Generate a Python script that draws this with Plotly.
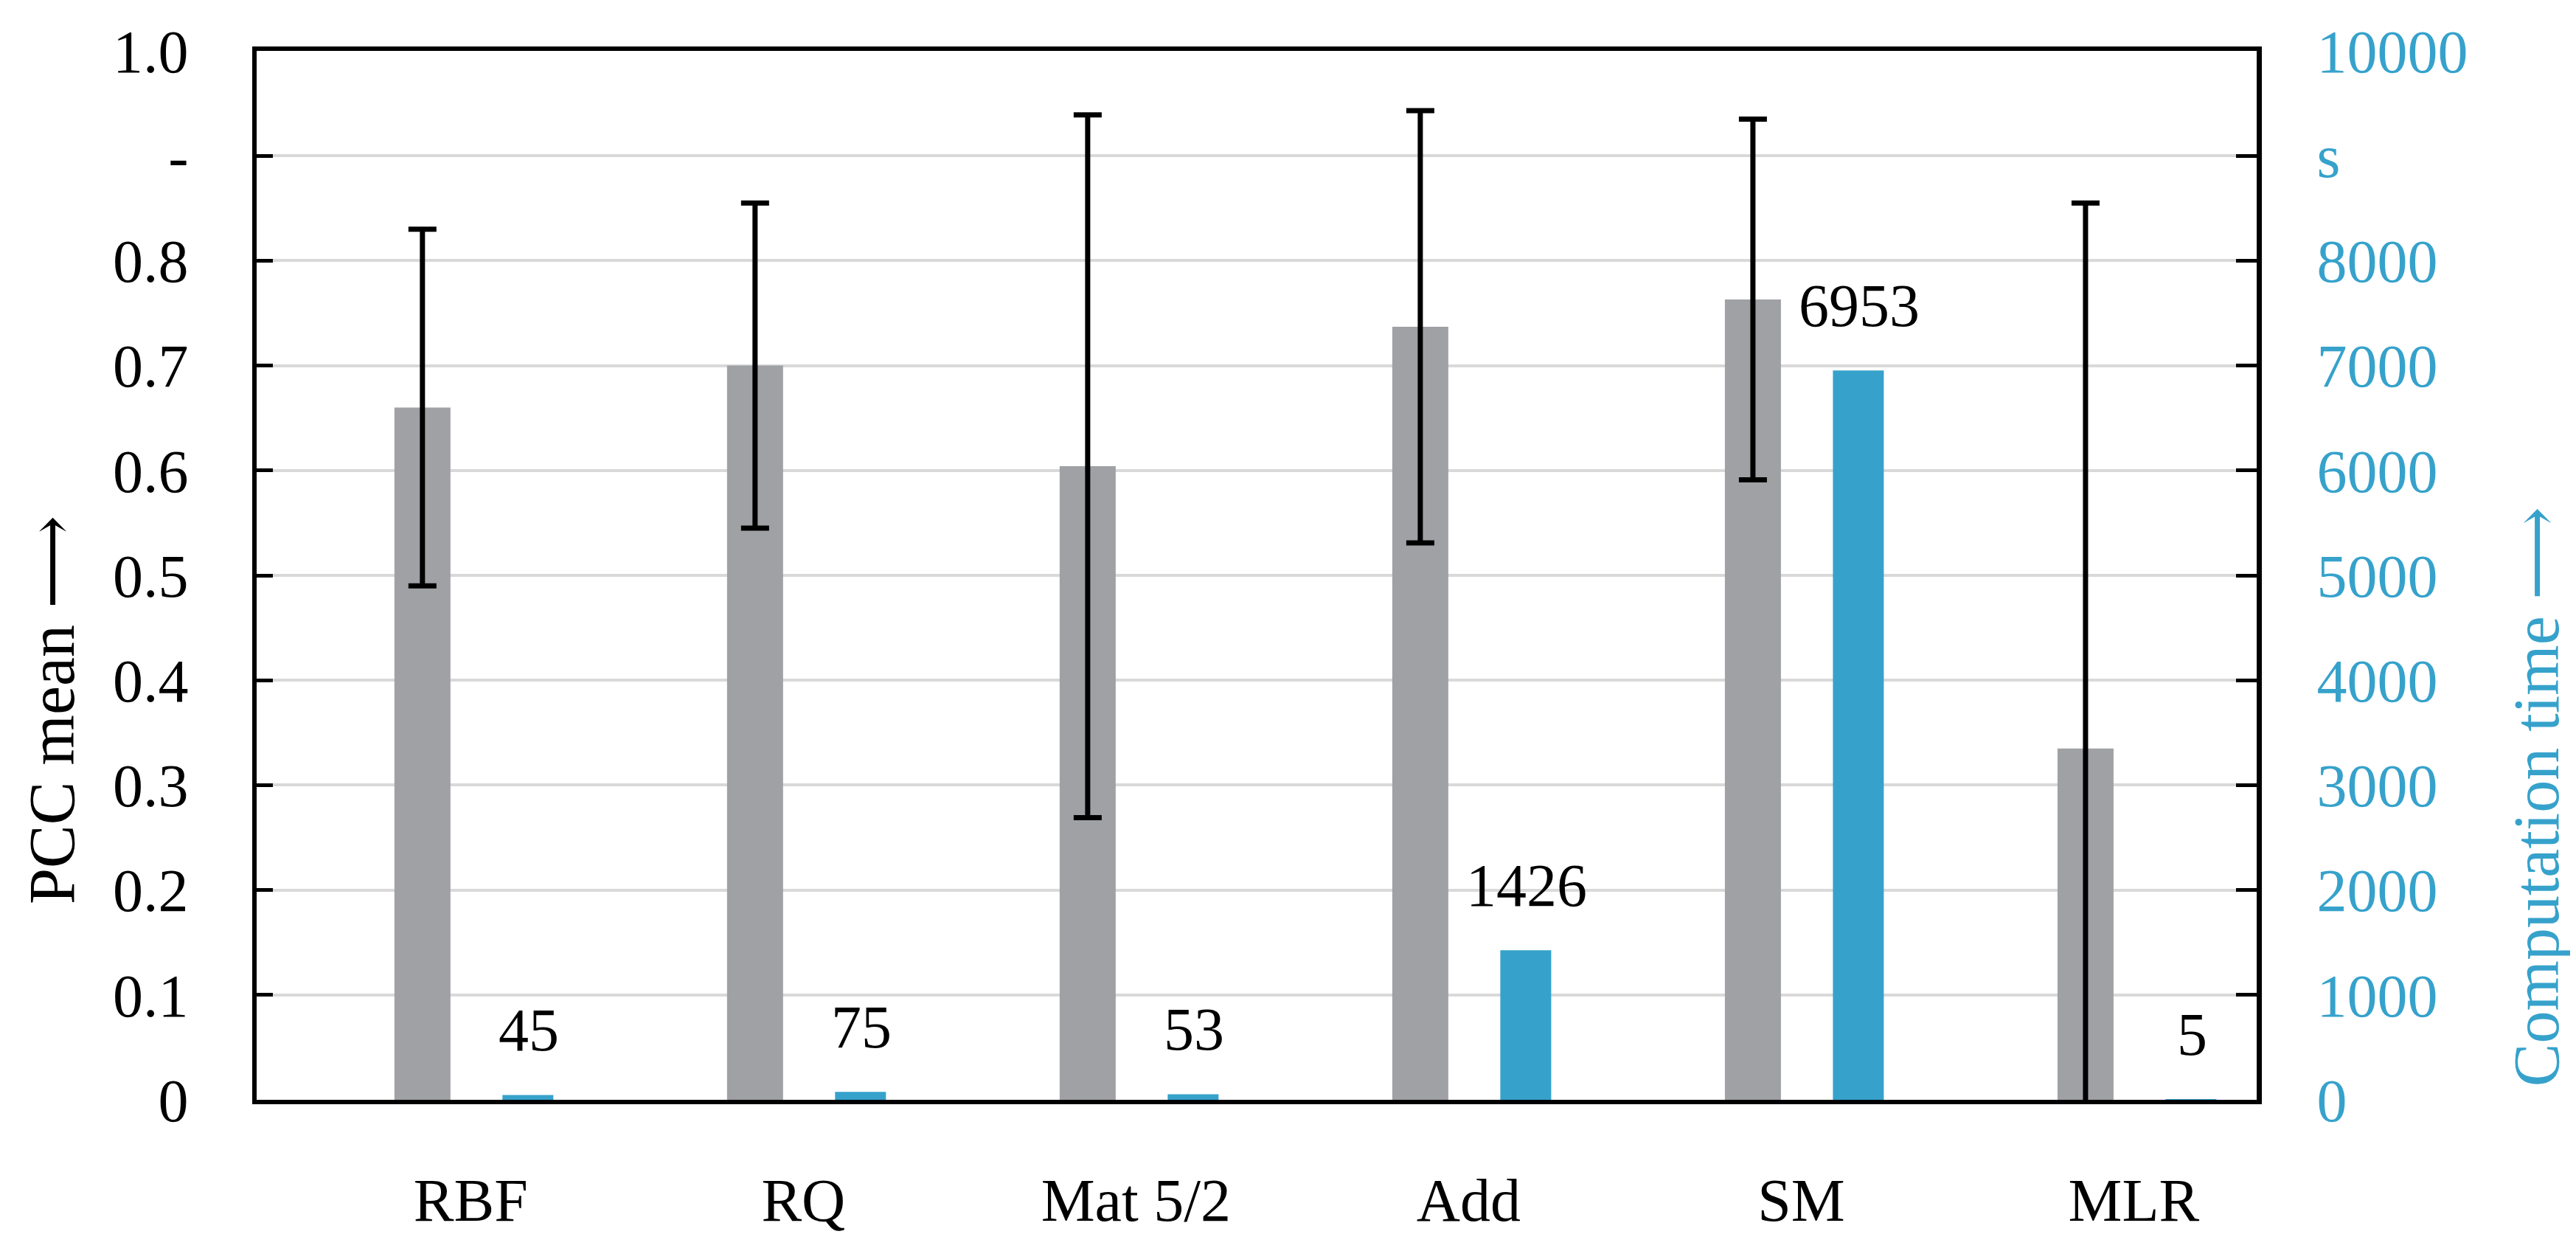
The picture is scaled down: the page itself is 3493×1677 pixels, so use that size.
import plotly.graph_objects as go

# ---- data ----
categories = ["RBF", "RQ", "Mat 5/2", "Add", "SM", "MLR"]
pcc_mean = [0.66, 0.70, 0.604, 0.737, 0.763, 0.335]
pcc_err = [0.17, 0.155, 0.335, 0.206, 0.172, 0.52]
comp_time = [45, 75, 53, 1426, 6953, 5]

left_tickvals = [0, 0.1, 0.2, 0.3, 0.4, 0.5, 0.6, 0.7, 0.8, 0.9, 1.0]
left_ticktext = ["0", "0.1", "0.2", "0.3", "0.4", "0.5", "0.6", "0.7", "0.8", "-", "1.0"]
right_tickvals = [0, 1000, 2000, 3000, 4000, 5000, 6000, 7000, 8000, 9000, 10000]
right_ticktext = ["0", "1000", "2000", "3000", "4000", "5000", "6000", "7000", "8000", "s", "10000"]

ARROW = "<span style='font-family:DejaVu Serif'>\u27f6</span>"
left_title = "PCC mean " + ARROW
right_title = "Computation time " + ARROW

# ---- style ----
GRAY = "#a0a1a5"
BLUE = "#36a2cb"
GRID = "#d9d9d9"
FONT = "Liberation Serif"
FS = 82
TFS = 88

W, H = 3493, 1677
ML, MR, MT, MB = 340, 441, 61, 162

fig = go.Figure()

fig.add_trace(go.Bar(
    x=categories, y=pcc_mean, yaxis="y",
    width=0.1685, offset=-0.2428,
    marker=dict(color=GRAY, line=dict(width=0)),
    error_y=dict(type="data", array=pcc_err, visible=True,
                 color="black", thickness=7, width=19),
    showlegend=False,
))

fig.add_trace(go.Bar(
    x=categories, y=comp_time, yaxis="y2",
    width=0.153, offset=0.082,
    marker=dict(color=BLUE, line=dict(width=0)),
    showlegend=False,
))

# value labels above the blue bars
for c, v in zip(categories, comp_time):
    fig.add_annotation(
        x=c, y=v, xref="x", yref="y2", text=str(v), showarrow=False,
        xshift=73, yshift=88, yanchor="middle", xanchor="center",
        font=dict(family=FONT, size=FS, color="black"),
    )

plot_w = W - ML - MR
plot_h = H - MT - MB

fig.add_annotation(
    x=(62 - ML) / plot_w, y=(H - MB - 975) / plot_h, xref="paper", yref="paper",
    text=left_title, textangle=-90, showarrow=False,
    xanchor="center", yanchor="middle",
    font=dict(family=FONT, size=TFS, color="black"),
)
fig.add_annotation(
    x=(3430 - ML) / plot_w, y=(H - MB - 1095) / plot_h, xref="paper", yref="paper",
    text=right_title, textangle=-90, showarrow=False,
    xanchor="center", yanchor="middle",
    font=dict(family=FONT, size=TFS, color=BLUE),
)

fig.update_layout(
    width=W, height=H, autosize=False,
    margin=dict(l=ML, r=MR, t=MT, b=MB, pad=0),
    paper_bgcolor="white", plot_bgcolor="white",
    barmode="overlay",
    font=dict(family=FONT, size=FS, color="black"),
    xaxis=dict(
        type="category", range=[-0.657, 5.356],
        showline=True, linecolor="black", linewidth=6, mirror=True,
        ticks="", showgrid=False, zeroline=False,
        tickfont=dict(family=FONT, size=FS, color="black"),
        ticklabelshift=-6, ticklabelstandoff=60,
    ),
    yaxis=dict(
        range=[0, 1], tickvals=left_tickvals, ticktext=left_ticktext,
        showgrid=True, gridcolor=GRID, gridwidth=4,
        showline=True, linecolor="black", linewidth=6,
        ticks="inside", ticklen=22, tickwidth=5, tickcolor="black",
        zeroline=False,
        tickfont=dict(family=FONT, size=FS, color="black"),
        ticklabelstandoff=70,
    ),
    yaxis2=dict(
        overlaying="y", side="right",
        range=[0, 10000], tickvals=right_tickvals, ticktext=right_ticktext,
        showgrid=False,
        showline=True, linecolor="black", linewidth=7,
        ticks="inside", ticklen=28, tickwidth=5, tickcolor="black",
        zeroline=False,
        tickfont=dict(family=FONT, size=FS, color=BLUE),
        ticklabelstandoff=58,
    ),
)

fig.write_html("out.html")
